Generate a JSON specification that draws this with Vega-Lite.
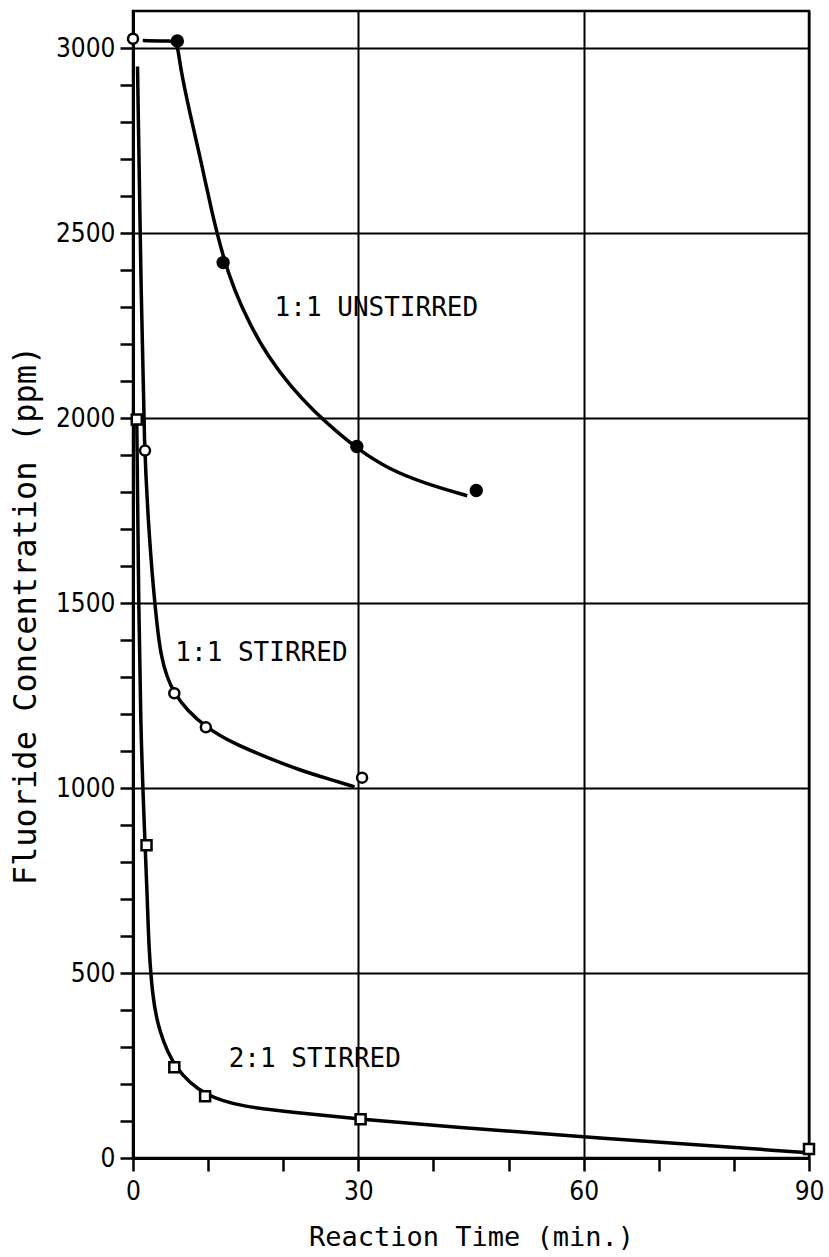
{
  "$schema": "https://vega.github.io/schema/vega-lite/v6.json",
  "width": 676,
  "height": 1147,
  "autosize": "none",
  "padding": {"left": 133, "top": 11, "right": 20, "bottom": 99},
  "background": "white",
  "config": {"view": {"stroke": "black", "strokeWidth": 2.5}},
  "datasets": {
    "curves": [
      {"series": "unstirred", "t": 1.3, "c": 3020},
      {"series": "unstirred", "t": 5.3, "c": 3019},
      {"series": "unstirred", "t": 5.9, "c": 3016},
      {"series": "unstirred", "t": 6.3, "c": 2946},
      {"series": "unstirred", "t": 7.5, "c": 2830},
      {"series": "unstirred", "t": 9.0, "c": 2700},
      {"series": "unstirred", "t": 10.5, "c": 2555},
      {"series": "unstirred", "t": 12.0, "c": 2435},
      {"series": "unstirred", "t": 13.5, "c": 2345},
      {"series": "unstirred", "t": 15.5, "c": 2255},
      {"series": "unstirred", "t": 18.0, "c": 2165},
      {"series": "unstirred", "t": 21.0, "c": 2085},
      {"series": "unstirred", "t": 24.0, "c": 2020},
      {"series": "unstirred", "t": 27.0, "c": 1965},
      {"series": "unstirred", "t": 30.0, "c": 1915},
      {"series": "unstirred", "t": 34.0, "c": 1862},
      {"series": "unstirred", "t": 39.0, "c": 1822},
      {"series": "unstirred", "t": 44.5, "c": 1790},
      {"series": "stirred11", "t": 0.6, "c": 2950},
      {"series": "stirred11", "t": 1.1, "c": 2317},
      {"series": "stirred11", "t": 1.5, "c": 1912},
      {"series": "stirred11", "t": 2.1, "c": 1700},
      {"series": "stirred11", "t": 2.7, "c": 1540},
      {"series": "stirred11", "t": 3.2, "c": 1440},
      {"series": "stirred11", "t": 3.7, "c": 1360},
      {"series": "stirred11", "t": 4.5, "c": 1300},
      {"series": "stirred11", "t": 5.5, "c": 1256},
      {"series": "stirred11", "t": 7.2, "c": 1210},
      {"series": "stirred11", "t": 9.7, "c": 1164},
      {"series": "stirred11", "t": 13.3, "c": 1121},
      {"series": "stirred11", "t": 17.8, "c": 1083},
      {"series": "stirred11", "t": 22.2, "c": 1048},
      {"series": "stirred11", "t": 26.6, "c": 1021},
      {"series": "stirred11", "t": 29.5, "c": 1003},
      {"series": "stirred21", "t": 0.5, "c": 1998},
      {"series": "stirred21", "t": 0.7, "c": 1600},
      {"series": "stirred21", "t": 1.0, "c": 1156},
      {"series": "stirred21", "t": 1.6, "c": 851},
      {"series": "stirred21", "t": 1.9, "c": 705},
      {"series": "stirred21", "t": 2.1, "c": 570},
      {"series": "stirred21", "t": 2.6, "c": 435},
      {"series": "stirred21", "t": 3.4, "c": 346},
      {"series": "stirred21", "t": 5.5, "c": 240},
      {"series": "stirred21", "t": 9.6, "c": 167},
      {"series": "stirred21", "t": 14.6, "c": 138},
      {"series": "stirred21", "t": 22.2, "c": 122},
      {"series": "stirred21", "t": 30.3, "c": 105},
      {"series": "stirred21", "t": 42.2, "c": 84},
      {"series": "stirred21", "t": 60.2, "c": 57},
      {"series": "stirred21", "t": 90, "c": 14}
    ],
    "points": [
      {"series": "unstirred", "t": 5.9, "c": 3019},
      {"series": "unstirred", "t": 12.0, "c": 2420},
      {"series": "unstirred", "t": 29.8, "c": 1923},
      {"series": "unstirred", "t": 45.7, "c": 1804},
      {"series": "stirred11", "t": 0.0, "c": 3025},
      {"series": "stirred11", "t": 1.6, "c": 1912},
      {"series": "stirred11", "t": 5.5, "c": 1256},
      {"series": "stirred11", "t": 9.7, "c": 1164},
      {"series": "stirred11", "t": 30.5, "c": 1028},
      {"series": "stirred21", "t": 0.5, "c": 1996},
      {"series": "stirred21", "t": 1.8, "c": 845},
      {"series": "stirred21", "t": 5.5, "c": 245},
      {"series": "stirred21", "t": 9.6, "c": 167},
      {"series": "stirred21", "t": 30.3, "c": 105},
      {"series": "stirred21", "t": 90, "c": 24}
    ],
    "labels": [
      {"label": "1:1 UNSTIRRED", "t": 32.4, "c": 2298},
      {"label": "1:1 STIRRED", "t": 17.1, "c": 1364},
      {"label": "2:1 STIRRED", "t": 24.2, "c": 267}
    ]
  },
  "layer": [
    {
      "data": {"name": "curves"},
      "mark": {"type": "line", "interpolate": "basis", "color": "black", "strokeWidth": 3.5},
      "encoding": {
        "x": {
          "field": "t", "type": "quantitative",
          "scale": {"domain": [0, 90], "nice": false, "zero": false},
          "axis": {
            "title": "Reaction Time (min.)",
            "values": [0, 10, 20, 30, 40, 50, 60, 70, 80, 90],
            "tickCount": 50,
            "format": "d",
            "labelExpr": "datum.value % 30 === 0 ? datum.label : ''",
            "grid": true,
            "gridColor": "black",
            "gridWidth": 2,
            "gridOpacity": {"condition": {"test": "datum.value % 30 === 0 && datum.value > 0", "value": 1}, "value": 0},
            "tickSize": 13, "tickWidth": 2.5, "tickColor": "black",
            "domainColor": "black", "domainWidth": 3,
            "labelFont": "DejaVu Sans Condensed", "labelFontSize": 26, "labelColor": "black",
            "labelPadding": 7, "labelFlush": false, "labelOverlap": false,
            "titleFont": "DejaVu Sans Mono", "titleFontSize": 27, "titleFontWeight": "normal", "titleColor": "black",
            "titleY": 87, "titleBaseline": "alphabetic"
          }
        },
        "y": {
          "field": "c", "type": "quantitative",
          "scale": {"domain": [0, 3100], "nice": false, "zero": true},
          "axis": {
            "title": "Fluoride Concentration (ppm)",
            "values": [0,100,200,300,400,500,600,700,800,900,1000,1100,1200,1300,1400,1500,1600,1700,1800,1900,2000,2100,2200,2300,2400,2500,2600,2700,2800,2900,3000],
            "tickCount": 50,
            "format": "d",
            "labelExpr": "datum.value % 500 === 0 ? datum.label : ''",
            "grid": true,
            "gridColor": "black",
            "gridWidth": 2,
            "gridOpacity": {"condition": {"test": "datum.value % 500 === 0 && datum.value > 0", "value": 1}, "value": 0},
            "tickSize": 13, "tickWidth": 2.5, "tickColor": "black",
            "domainColor": "black", "domainWidth": 3,
            "labelFont": "DejaVu Sans Condensed", "labelFontSize": 26, "labelColor": "black",
            "labelPadding": 5, "labelFlush": false, "labelOverlap": false,
            "titleFont": "DejaVu Sans Mono", "titleFontSize": 32, "titleFontWeight": "normal", "titleColor": "black",
            "titleX": -98, "titleY": 604, "titleAlign": "center", "titleBaseline": "alphabetic", "titleAngle": -90
          }
        },
        "detail": {"field": "series"}
      }
    },
    {
      "data": {"name": "points"},
      "transform": [{"filter": "datum.series === 'unstirred'"}],
      "mark": {"type": "point", "shape": "circle", "filled": true, "fill": "black", "stroke": "black", "size": 130, "opacity": 1},
      "encoding": {"x": {"field": "t", "type": "quantitative"}, "y": {"field": "c", "type": "quantitative"}}
    },
    {
      "data": {"name": "points"},
      "transform": [{"filter": "datum.series === 'stirred11'"}],
      "mark": {"type": "point", "shape": "circle", "filled": true, "fill": "white", "stroke": "black", "strokeWidth": 2.5, "size": 100, "opacity": 1},
      "encoding": {"x": {"field": "t", "type": "quantitative"}, "y": {"field": "c", "type": "quantitative"}}
    },
    {
      "data": {"name": "points"},
      "transform": [{"filter": "datum.series === 'stirred21'"}],
      "mark": {"type": "point", "shape": "square", "filled": true, "fill": "white", "stroke": "black", "strokeWidth": 2.5, "size": 100, "opacity": 1},
      "encoding": {"x": {"field": "t", "type": "quantitative"}, "y": {"field": "c", "type": "quantitative"}}
    },
    {
      "data": {"name": "labels"},
      "mark": {"type": "text", "font": "DejaVu Sans Mono", "fontSize": 26, "color": "black", "align": "center", "baseline": "middle"},
      "encoding": {
        "x": {"field": "t", "type": "quantitative"},
        "y": {"field": "c", "type": "quantitative"},
        "text": {"field": "label"}
      }
    }
  ]
}
